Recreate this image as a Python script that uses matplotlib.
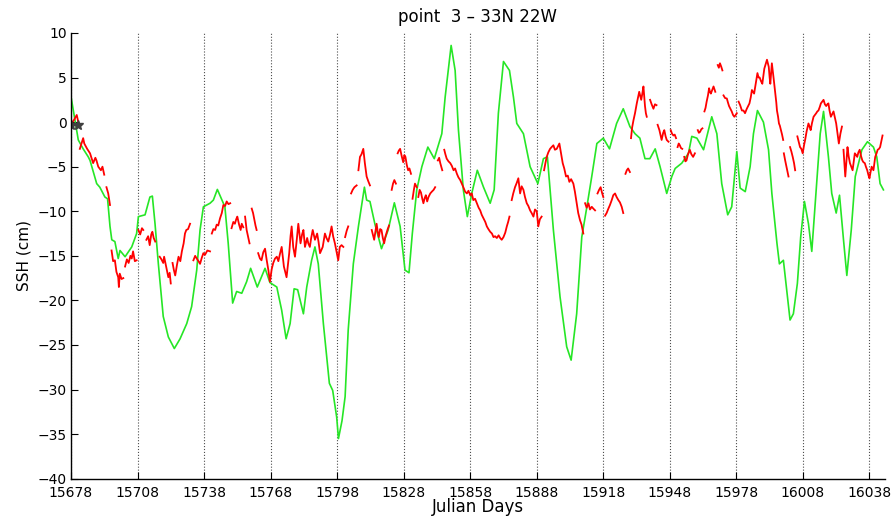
import numpy as np
import matplotlib
matplotlib.use("Agg")
import matplotlib.pyplot as plt

nan = np.nan

# model SSH (smooth green curve)
model_days = [15678.0, 15680.0, 15681.3, 15683.5, 15685.8, 15686.6, 15689.6, 15691.0,
              15693.3, 15694.5, 15695.6, 15696.4, 15697.8, 15699.3, 15700.1, 15702.4,
              15705.4, 15707.6, 15708.4, 15711.4, 15713.6, 15714.7, 15715.9, 15717.4,
              15719.6, 15721.9, 15724.6, 15727.2, 15730.2, 15732.4, 15734.7, 15736.2,
              15737.7, 15740.7, 15742.2, 15744.0, 15747.4, 15748.9, 15750.9, 15752.7,
              15755.0, 15757.2, 15759.0, 15762.0, 15765.5, 15767.7, 15770.8, 15773.0,
              15775.0, 15776.8, 15778.6, 15780.2, 15782.8, 15784.3, 15786.5, 15788.0,
              15789.5, 15791.8, 15794.5, 15796.0, 15797.8, 15798.6, 15800.2, 15801.6,
              15803.0, 15805.3, 15807.6, 15810.3, 15811.3, 15812.8, 15815.0, 15818.0,
              15821.0, 15823.8, 15826.4, 15828.6, 15830.4, 15831.9, 15833.9, 15836.2,
              15838.9, 15841.8, 15845.2, 15846.7, 15849.4, 15851.2, 15852.7, 15854.9,
              15856.7, 15858.7, 15861.2, 15864.0, 15867.0, 15868.8, 15870.7, 15873.0,
              15875.7, 15877.5, 15879.0, 15882.0, 15885.0, 15888.5, 15891.0, 15892.8,
              15895.5, 15898.5, 15901.5, 15903.5, 15906.0, 15908.3, 15910.6, 15912.8,
              15915.1, 15918.0, 15920.8, 15924.0, 15927.0, 15930.0, 15932.3, 15934.5,
              15936.8, 15939.0, 15941.4, 15943.6, 15946.6, 15948.9, 15950.4, 15953.4,
              15956.4, 15957.9, 15960.2, 15963.2, 15966.9, 15969.2, 15971.4, 15974.1,
              15975.9, 15978.2, 15979.7, 15982.0, 15984.2, 15985.7, 15987.5, 15990.2,
              15992.5, 15994.0, 15996.3, 15997.4, 15999.2, 16000.7, 16002.2, 16003.7,
              16005.5, 16007.0, 16008.7, 16010.5, 16012.0, 16014.0, 16015.8, 16017.3,
              16019.5, 16021.0, 16023.0, 16024.5, 16026.3, 16027.8, 16029.8, 16031.6,
              16034.6, 16037.1, 16039.8, 16041.3, 16042.8, 16044.3]
model_ssh = [2.9, -0.1, -2.0, -3.0, -3.9, -4.3, -6.9, -7.3,
             -8.4, -8.6, -11.7, -13.2, -13.4, -15.3, -14.4, -15.1,
             -14.0, -12.5, -10.6, -10.4, -8.4, -8.3, -11.4, -15.9,
             -21.8, -24.1, -25.4, -24.3, -22.6, -20.7, -16.6, -12.1,
             -9.5, -9.1, -8.75, -7.55, -9.5, -13.6, -20.3, -19.0,
             -19.2, -17.9, -16.4, -18.5, -16.4, -18.0, -18.5, -21.1,
             -24.3, -22.6, -18.7, -18.8, -21.5, -18.5, -15.5, -14.0,
             -15.9, -22.6, -29.3, -30.1, -33.1, -35.5, -33.5, -30.8,
             -23.3, -15.9, -11.7, -7.3, -8.75, -8.9, -11.4, -14.2,
             -12.1, -9.05, -11.7, -16.6, -16.9, -12.5, -7.6, -5.0,
             -2.8, -4.1, -1.3, 2.8, 8.6, 5.8, -0.9, -7.6,
             -10.6, -8.0, -5.4, -7.3, -9.1, -7.6, 1.0, 6.8,
             5.8, 2.8, -0.15, -1.3, -5.0, -6.9, -4.1, -3.9,
             -12.1, -19.6, -25.2, -26.7, -21.5, -12.9, -9.5, -6.1,
             -2.4, -1.8, -3.0, -0.15, 1.5, -0.5, -1.3, -1.8,
             -4.1, -4.1, -3.0, -5.0, -8.0, -6.1, -5.2, -4.6,
             -3.5, -1.6, -1.8, -3.1, 0.6, -1.3, -6.9, -10.4,
             -9.5, -3.3, -7.4, -7.8, -5.0, -1.3, 1.3, 0.0,
             -3.1, -8.0, -13.6, -15.9, -15.5, -18.8, -22.2, -21.5,
             -18.1, -12.9, -8.9, -11.4, -14.5, -7.6, -1.3, 1.2,
             -3.9, -8.0, -10.2, -8.2, -13.2, -17.2, -12.1, -6.1,
             -3.1, -2.2, -2.8, -3.9, -6.9, -7.6]

# altimeter SSH (red, with data gaps as nan)
obs_days = [15678.3, 15679.5, 15680.6, 15681.5, nan,
            15682.0, 15683.0, 15683.5, 15684.0, 15685.3, 15686.6, 15688.0, 15689.0, 15689.5,
            15690.3, 15691.5, 15692.2, 15693.0, nan,
            15694.0, 15694.8, 15695.6, nan,
            15696.3, 15697.0, 15697.8, 15698.5, 15699.3, 15699.6, 15700.0, 15700.8, 15701.6, nan,
            15702.4, 15703.2, 15704.0, 15704.8, 15705.4, 15706.0, 15706.8, 15707.6, nan,
            15708.4, 15709.2, 15710.0, 15710.6, nan,
            15712.0, 15712.8, 15713.5, 15714.2, 15714.7, 15715.3, 15716.0, nan,
            15718.0, 15718.8, 15719.6, 15720.0, 15721.0, 15721.9, 15722.5, 15723.0, nan,
            15723.8, 15724.4, 15725.0, 15725.8, 15726.5, 15727.3, 15728.0, 15728.8, 15729.4,
            15730.0, 15730.8, 15731.7, nan,
            15733.2, 15734.0, 15734.7, 15735.5, 15736.2, 15737.0, 15737.7, 15738.4, 15739.5,
            15740.7, nan,
            15741.5, 15742.2, 15743.0, 15743.7, 15744.4, 15745.2, 15746.0, 15746.7, 15747.5,
            15748.2, 15749.0, 15749.8, nan,
            15750.4, 15751.2, 15751.9, 15752.5, 15753.0, 15753.8, 15754.5, 15755.0, 15755.7, nan,
            15756.5, 15757.2, 15757.8, 15758.5, nan,
            15759.5, 15760.1, 15760.7, 15761.2, 15761.7, nan,
            15762.4, 15763.2, 15763.9, 15764.7, 15765.5, 15766.2, 15767.0, 15767.7, 15768.5,
            15769.2, 15770.0, 15770.8, 15771.5, 15772.3, 15773.0, 15774.0, 15775.2, 15775.8,
            15776.4, 15777.0, 15777.5, 15778.2, 15779.0, 15779.8, 15780.5, 15781.5, 15782.2,
            15782.8, 15783.5, 15784.5, 15785.0, 15785.7, 15786.3, 15787.0, 15788.0, 15789.0,
            15789.6, 15790.3, 15791.5, 15792.5, 15793.2, 15794.0, 15794.8, 15795.5, 15796.2,
            15797.0, 15797.8, 15798.5, 15799.2, 15800.0, 15800.8, nan,
            15801.6, 15802.3, 15803.0, nan,
            15804.3, 15805.0, 15805.8, 15806.8, nan,
            15807.6, 15808.3, 15809.0, 15809.8, 15810.5, 15811.3, 15812.0, 15812.8, nan,
            15813.6, 15814.2, 15814.7, 15815.3, 15815.8, 15816.3, 15816.8, 15817.4, 15818.0,
            15818.6, 15819.2, 15819.7, 15820.2, 15820.8, 15821.4, nan,
            15822.6, 15823.2, 15823.8, 15824.5, nan,
            15825.3, 15825.8, 15826.4, 15827.1, 15827.8, 15828.3, 15828.8, 15829.4, 15830.0,
            15830.6, 15831.3, nan,
            15832.0, 15832.6, 15833.1, 15833.9, nan,
            15834.6, 15835.2, 15835.8, 15836.4, 15836.9, 15837.5, 15838.0, 15838.6, 15839.2,
            15840.0, 15840.7, 15841.5, 15842.2, nan,
            15843.4, 15844.0, 15844.5, 15845.4, nan,
            15846.3, 15846.8, 15847.4, 15848.2, 15849.0, 15849.7, 15850.5, 15851.2, 15852.0,
            15852.7, 15853.5, 15854.2, 15854.9, 15855.7, 15856.5, 15857.2, 15858.0, 15858.7,
            15859.4, 15860.2, 15861.0, 15861.8, 15862.5, 15863.2, 15864.0, 15864.8, 15865.5,
            15866.2, 15867.0, 15867.8, 15868.5, 15869.2, 15870.0, 15870.8, 15871.5, 15872.2,
            15873.0, 15873.8, 15874.5, 15875.1, 15875.7, nan,
            15876.7, 15877.4, 15878.2, 15879.0, 15879.7, 15880.5, 15881.2, 15882.0, 15882.7,
            15883.5, 15884.2, 15885.0, 15885.7, 15886.5, 15887.2, 15888.0, 15888.7, 15889.4,
            15890.2, nan,
            15891.3, 15891.9, 15892.5, 15893.2, 15894.0, 15894.7, 15895.5, 15896.2, 15897.0,
            15897.6, 15898.2, 15898.9, 15899.7, 15900.4, 15901.2, 15902.0, 15902.7, 15903.5,
            15904.5, 15905.2, 15906.0, 15906.7, 15907.5, 15908.2, 15909.0, nan,
            15909.8, 15910.5, 15911.3, 15912.0, 15912.8, 15913.5, 15914.3, nan,
            15915.4, 15916.1, 15916.8, 15917.4, 15918.0, nan,
            15918.8, 15919.5, 15920.3, 15921.0, 15921.8, 15922.5, 15923.3, 15924.0, 15924.8,
            15925.5, 15926.3, 15927.0, nan,
            15928.0, 15928.6, 15929.2, 15930.0, nan,
            15930.5, 15931.0, 15931.6, 15932.3, 15933.1, 15933.7, 15934.2, 15935.1, 15935.6,
            15936.1, 15936.8, 15937.2, 15937.6, nan,
            15939.1, 15939.8, 15940.6, 15941.3, 15942.0, nan,
            15942.5, 15943.3, 15944.3, 15945.0, 15945.5, 15946.1, 15946.6, 15947.4, nan,
            15948.4, 15949.0, 15949.6, 15950.2, 15950.8, nan,
            15951.5, 15952.0, 15952.5, 15953.0, 15953.6, nan,
            15954.5, 15955.0, 15955.5, 15956.2, 15957.0, 15957.7, 15958.5, 15959.3, nan,
            15960.6, 15961.1, 15961.6, 15962.2, 15962.7, nan,
            15963.6, 15964.1, 15964.6, 15965.2, 15965.7, 15966.1, 15966.5, 15967.1, 15967.7,
            15968.1, 15968.5, nan,
            15969.6, 15970.1, 15970.6, 15971.2, 15971.7, nan,
            15972.2, 15972.9, 15973.7, 15974.2, 15974.7, 15975.3, 15975.9, 15976.5, 15977.1,
            15977.7, 15978.2, nan,
            15979.0, 15979.7, 15980.5, 15981.2, 15981.9, 15982.7, 15983.3, 15983.9, 15984.5,
            15985.0, 15985.5, 15986.0, 15986.7, 15987.5, 15988.0, 15988.5, 15989.1, 15989.7,
            15990.2, 15990.6, 15991.2, 15991.8, 15992.2, 15992.6, 15993.0, 15993.3, 15993.7,
            15994.0, 15994.4, 15994.8, 15995.2, 15995.6, 15996.0, 15996.3, 15996.8, 15997.2,
            15997.6, 15998.1, 15998.6, 15999.1, nan,
            15999.4, 16000.0, 16000.6, 16001.0, 16001.5, nan,
            16002.2, 16002.8, 16003.4, 16004.0, 16004.5, nan,
            16005.5, 16006.1, 16006.7, 16007.3, 16007.9, 16008.5, 16009.0, 16009.7, 16010.5,
            16011.0, 16011.5, 16012.1, 16012.8, 16013.4, 16014.0, 16014.5, 16015.0, 16015.6,
            16016.1, 16016.7, 16017.3, 16017.9, 16018.5, 16019.0, 16019.5, 16020.0, 16020.6,
            16021.2, 16021.8, 16022.4, 16023.0, 16023.6, 16024.2, 16024.9, 16025.6, nan,
            16026.3, 16027.1, 16027.6, 16028.1, 16028.6, 16029.2, 16029.8, 16030.4, 16030.9,
            16031.4, 16032.0, 16032.5, 16033.0, 16033.6, 16034.2, 16034.8, 16035.3, 16035.9,
            16036.4, 16037.0, 16037.5, 16038.0, 16038.5, 16039.0, 16039.4, 16039.8, 16040.2,
            16040.6, 16041.2, 16041.7, 16042.3, 16042.8, 16043.4, 16043.9]
obs_ssh = [-0.15, 0.3, 0.8, -0.2, nan,
           -3.0, -2.2, -1.8, -2.4, -3.0, -3.5, -4.6, -4.0, -4.3,
           -5.0, -5.4, -5.0, -5.9, nan,
           -7.3, -8.0, -9.3, nan,
           -14.4, -15.6, -15.5, -16.8, -17.4, -18.5, -17.0, -17.6, -17.5, nan,
           -16.2, -15.4, -15.8, -15.0, -15.3, -14.5, -15.6, -15.5, nan,
           -12.1, -12.6, -11.9, -12.1, nan,
           -13.2, -12.8, -13.8, -12.6, -12.3, -13.0, -13.4, nan,
           -15.1, -15.4, -15.8, -15.1, -16.3, -17.4, -16.9, -18.1, nan,
           -15.8, -16.6, -17.2, -16.0, -15.1, -15.6, -14.5, -13.6, -12.5,
           -12.1, -12.0, -11.4, nan,
           -15.5, -15.0, -15.3, -15.6, -15.9, -15.2, -14.7, -14.9, -14.4,
           -14.5, nan,
           -12.5, -12.0, -12.1, -11.5, -11.6, -10.8, -10.2, -9.3, -9.4,
           -8.9, -9.2, -9.1, nan,
           -11.9, -11.2, -11.4, -10.9, -10.6, -11.5, -12.1, -11.4, -11.8, nan,
           -10.6, -12.1, -12.8, -13.6, nan,
           -9.7, -10.2, -11.0, -11.6, -12.1, nan,
           -14.7, -15.3, -15.5, -14.6, -14.2, -15.4, -16.6, -17.9, -16.5,
           -15.8, -15.3, -15.1, -15.6, -14.7, -14.0, -16.2, -17.4, -16.0,
           -14.7, -12.8, -11.7, -14.0, -15.1, -13.2, -11.4, -13.6, -12.6,
           -12.1, -14.0, -13.0, -13.6, -14.0, -13.0, -12.1, -13.2, -12.5,
           -13.4, -14.7, -14.0, -12.5, -13.0, -13.4, -12.6, -11.7, -12.8,
           -13.6, -14.6, -15.5, -14.0, -13.8, -14.0, nan,
           -12.9, -12.2, -11.7, nan,
           -8.0, -7.6, -7.3, -7.1, nan,
           -5.4, -3.9, -3.6, -3.0, -4.6, -6.1, -6.6, -7.1, nan,
           -12.1, -12.7, -13.2, -12.2, -11.4, -12.3, -12.9, -12.0, -12.1,
           -13.0, -13.6, -12.9, -12.5, -12.0, -11.6, nan,
           -7.6, -6.9, -6.5, -6.9, nan,
           -3.5, -3.2, -3.0, -3.8, -4.5, -3.7, -3.9, -4.8, -5.4,
           -5.2, -5.8, nan,
           -8.6, -7.6, -6.9, -7.3, nan,
           -8.4, -7.6, -7.9, -8.6, -9.1, -8.5, -8.2, -8.9, -8.4,
           -8.0, -7.8, -7.6, -7.3, nan,
           -4.3, -4.0, -4.6, -5.4, nan,
           -3.1, -3.6, -4.1, -4.4, -4.6, -4.9, -5.4, -5.2, -5.8,
           -6.2, -6.5, -6.9, -7.3, -7.8, -8.0, -7.7, -8.2, -8.0,
           -8.75, -8.6, -9.1, -9.6, -9.9, -10.4, -10.8, -11.2, -11.7,
           -12.0, -12.3, -12.5, -12.9, -12.8, -13.0, -12.7, -13.0, -13.2,
           -12.9, -12.4, -11.7, -11.2, -10.6, nan,
           -8.75, -8.0, -7.3, -6.8, -6.3, -8.0, -7.2, -7.6, -8.4,
           -9.1, -9.4, -9.9, -10.2, -10.6, -9.8, -10.0, -11.7, -10.9,
           -10.6, nan,
           -5.4, -4.6, -3.9, -3.4, -3.0, -2.8, -2.6, -3.1, -3.0,
           -2.7, -2.4, -3.4, -4.6, -5.2, -6.1, -6.0, -6.7, -6.4,
           -6.9, -7.8, -9.1, -10.2, -11.0, -11.5, -12.5, nan,
           -9.1, -9.6, -9.1, -9.8, -9.5, -9.7, -9.9, nan,
           -8.0, -7.6, -7.3, -7.9, -8.4, nan,
           -10.5, -10.2, -9.7, -9.3, -8.75, -8.2, -8.0, -8.4, -8.75,
           -9.0, -9.5, -10.2, nan,
           -5.8, -5.4, -5.2, -5.6, nan,
           -1.8, -0.6, 0.2, 1.0, 2.1, 2.8, 3.4, 2.5, 3.2,
           4.0, 1.8, 1.0, 0.6, nan,
           2.5, 2.0, 1.5, 2.0, 1.9, nan,
           -0.3, -0.9, -2.0, -1.2, -0.9, -1.6, -2.0, -2.2, nan,
           -0.9, -1.3, -1.5, -1.4, -1.8, nan,
           -2.8, -2.4, -2.6, -2.9, -3.0, nan,
           -3.9, -4.4, -4.3, -3.6, -3.1, -3.6, -3.9, -3.5, nan,
           -0.9, -1.2, -1.1, -0.8, -0.7, nan,
           1.2, 1.6, 2.3, 3.0, 3.8, 3.4, 3.2, 3.6, 4.0,
           3.7, 3.4, nan,
           6.4, 6.1, 6.6, 6.2, 5.8, nan,
           3.0, 2.7, 2.65, 2.2, 1.8, 1.5, 1.2, 0.8, 0.6,
           0.8, 1.0, nan,
           2.3, 1.9, 1.3, 1.3, 1.0, 1.5, 1.8, 2.1, 2.8,
           3.6, 3.4, 3.2, 4.3, 5.5, 5.0, 5.0, 4.6, 4.3,
           5.2, 6.0, 6.5, 7.0, 6.6, 6.2, 5.0, 4.3, 5.6,
           6.6, 5.8, 4.9, 4.0, 3.2, 2.2, 1.3, 0.6, -0.15,
           -0.4, -0.9, -1.4, -2.0, nan,
           -3.5, -4.3, -5.0, -5.5, -6.1, nan,
           -2.8, -3.3, -3.9, -4.6, -5.4, nan,
           -1.6, -2.2, -2.8, -3.0, -3.5, -2.6, -2.0, -1.0, -0.15,
           -0.5, -0.9, -0.1, 0.6, 0.8, 1.0, 1.2, 1.3, 1.7,
           2.1, 2.3, 2.5, 2.0, 1.8, 2.0, 2.1, 1.3, 0.6,
           0.9, 1.2, 0.5, -0.15, -1.3, -2.4, -1.3, -0.5, nan,
           -3.1, -6.1, -4.4, -2.8, -3.8, -4.6, -5.0, -5.4, -4.4,
           -3.5, -3.7, -3.9, -3.4, -3.1, -3.8, -4.3, -4.5, -4.6,
           -5.0, -5.4, -5.9, -6.3, -5.6, -5.0, -5.2, -5.4, -4.6,
           -3.9, -3.5, -3.1, -3.0, -2.8, -2.1, -1.5]

# starting reference markers
star_days = [15678.0, 15681.3]
star_ssh = [-0.3, -0.3]

xtick_days = list(range(15678, 16039, 30))
ytick_vals = list(range(-40, 11, 5))

fig = plt.figure(figsize=(8.96, 5.16), dpi=100)
ax = fig.add_axes([0.0792, 0.0723, 0.9085, 0.8638])

ax.plot(model_days, model_ssh, color=(0.15, 0.9, 0.15), lw=1.2)
ax.plot(obs_days, obs_ssh, color=(1.0, 0.0, 0.0), lw=1.3)
ax.plot(star_days, star_ssh, '*', color='0.25', ms=7)

ax.set_xlim(15678, 16045)
ax.set_ylim(-40, 10)
ax.set_xticks(xtick_days)
ax.set_yticks(ytick_vals)
ax.xaxis.grid(True, linestyle=':', color='0.3', lw=0.8)
ax.yaxis.grid(False)

for side in ['top', 'right']:
    ax.spines[side].set_visible(False)
for side in ['left', 'bottom']:
    ax.spines[side].set_linewidth(1.0)

ax.tick_params(direction='in', length=5, labelsize=10)
ax.tick_params(axis='x', pad=5)
ax.tick_params(axis='y', pad=3)

ax.set_title('point  3 – 33N 22W', fontsize=12, pad=8)
ax.set_xlabel('Julian Days', fontsize=12)
ax.xaxis.set_label_coords(0.5, -0.043)
ax.set_ylabel('SSH (cm)', fontsize=11, labelpad=4)

fig.savefig('out.png', dpi=100)
